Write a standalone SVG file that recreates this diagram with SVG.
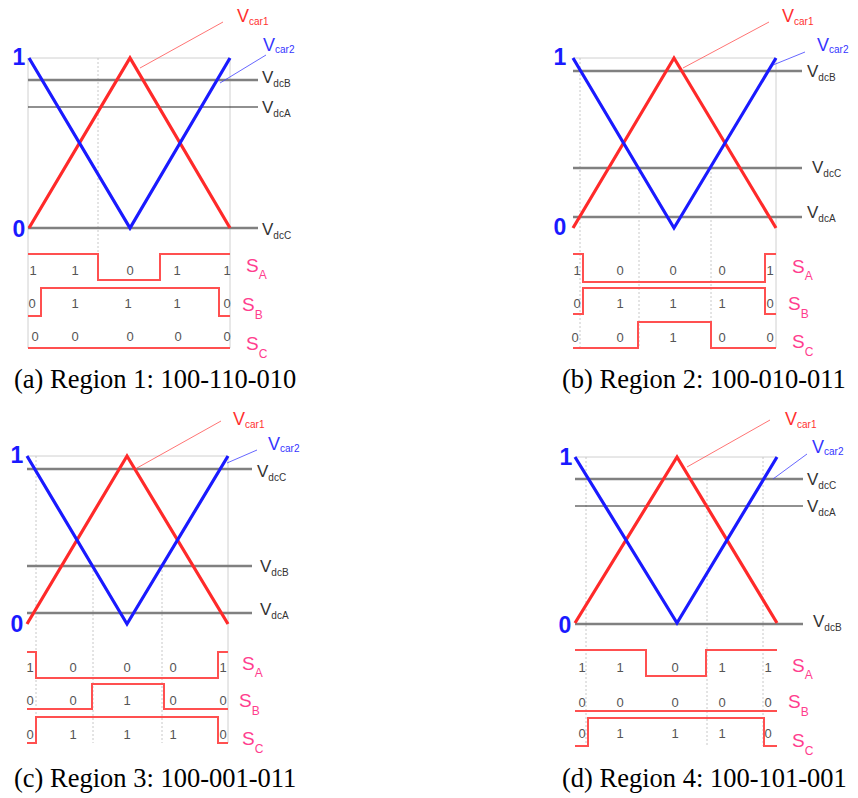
<svg xmlns="http://www.w3.org/2000/svg" width="858" height="798" viewBox="0 0 858 798">
<style>
.frame{stroke:#d0d0d0;stroke-width:1;fill:none}
.dot{stroke:#c8c8c8;stroke-width:1;stroke-dasharray:2 2;fill:none}
.dcg{stroke:#808080;stroke-width:2.5;fill:none}
.dck{stroke:#222;stroke-width:1.2;fill:none}
.red{stroke:#ff2a2a;stroke-width:3.2;fill:none;stroke-linejoin:miter}
.blue{stroke:#1a1aff;stroke-width:3.2;fill:none}
.sw{stroke:#ff5050;stroke-width:2;fill:none}
.ldr{stroke-width:0.8;fill:none}
.ax{font-family:"Liberation Sans",Arial,sans-serif;font-weight:bold;font-size:23px;fill:#1a1aff;text-anchor:middle}
.vl{font-family:"Liberation Sans",Arial,sans-serif;font-size:17px;fill:#333}
.vr{font-family:"Liberation Sans",Arial,sans-serif;font-size:18px;fill:#ff3030}
.vb{font-family:"Liberation Sans",Arial,sans-serif;font-size:18px;fill:#3535ff}
.sub{font-size:10px}
.sl{font-family:"Liberation Sans",Arial,sans-serif;font-size:19px;fill:#ff3d8e}
.sls{font-size:12px}
.num{font-family:"Liberation Sans",Arial,sans-serif;font-size:13px;fill:#555;text-anchor:middle}
.cap{font-family:"Liberation Serif","Times New Roman",serif;font-size:26.5px;fill:#000}
</style>

<!-- Panel (a) -->
<g id="panel-a">
  <path class="frame" d="M29,58 H230 M28,58 V348 M230,58 V348"/>
  <path class="dot" d="M98,58 V254"/>
  <path class="dcg" d="M28,80 H258"/>
  <path class="dck" d="M28,107 H258"/>
  <path class="dcg" d="M28,228 H258"/>
  <polyline class="red" points="29,228 130,58 230,228"/>
  <polyline class="blue" points="29,58 130,228 230,58"/>
  <path class="ldr" stroke="#ff5050" d="M223,22 L140,68"/>
  <path class="ldr" stroke="#4040ff" d="M266,55 L220,83"/>
  <text class="ax" x="19" y="65">1</text>
  <text class="ax" x="19" y="237">0</text>
  <text class="vr" x="237" y="22">V<tspan class="sub" dy="3">car1</tspan></text>
  <text class="vb" x="263" y="51">V<tspan class="sub" dy="2">car2</tspan></text>
  <text class="vl" x="262" y="83">V<tspan class="sub" dy="4">dcB</tspan></text>
  <text class="vl" x="262" y="113">V<tspan class="sub" dy="4">dcA</tspan></text>
  <text class="vl" x="262" y="235">V<tspan class="sub" dy="4">dcC</tspan></text>
  <polyline class="sw" points="28,254 98,254 98,280 160,280 160,254 230,254"/>
  <polyline class="sw" points="28,316 41,316 41,288 219,288 219,316 230,316"/>
  <polyline class="sw" points="28,348 230,348"/>
  <g class="num">
    <text x="33" y="275">1</text><text x="75" y="275">1</text><text x="130" y="275">0</text><text x="177" y="275">1</text><text x="227" y="275">1</text>
    <text x="32" y="308">0</text><text x="75" y="308">1</text><text x="128" y="308">1</text><text x="177" y="308">1</text><text x="227" y="308">0</text>
    <text x="35" y="341">0</text><text x="75" y="341">0</text><text x="130" y="341">0</text><text x="178" y="341">0</text><text x="227" y="341">0</text>
  </g>
  <text class="sl" x="246" y="272">S<tspan class="sls" dy="7">A</tspan></text>
  <text class="sl" x="242" y="311">S<tspan class="sls" dy="8">B</tspan></text>
  <text class="sl" x="246" y="350">S<tspan class="sls" dy="8">C</tspan></text>
  <text class="cap" x="14" y="388">(a) Region 1: 100-110-010</text>
</g>

<!-- Panel (b) -->
<g id="panel-b">
  <path class="frame" d="M573,58 H776 M776,58 V348"/>
  <path class="dot" d="M580,58 V348 M639,168 V348 M711,168 V348"/>
  <path class="dcg" d="M573,71 H802"/>
  <path class="dcg" d="M573,168 H802"/>
  <path class="dcg" d="M573,217 H802"/>
  <polyline class="red" points="573,228 674,58 776,228"/>
  <polyline class="blue" points="573,58 674,228 776,58"/>
  <path class="ldr" stroke="#ff5050" d="M769,22 L683,68"/>
  <path class="ldr" stroke="#4040ff" d="M805,52 L773,65"/>
  <text class="ax" x="560" y="65">1</text>
  <text class="ax" x="560" y="235">0</text>
  <text class="vr" x="782" y="22">V<tspan class="sub" dy="3">car1</tspan></text>
  <text class="vb" x="817" y="51">V<tspan class="sub" dy="2">car2</tspan></text>
  <text class="vl" x="807" y="77">V<tspan class="sub" dy="4">dcB</tspan></text>
  <text class="vl" x="812" y="173">V<tspan class="sub" dy="4">dcC</tspan></text>
  <text class="vl" x="807" y="218">V<tspan class="sub" dy="4">dcA</tspan></text>
  <polyline class="sw" points="573,254 583,254 583,282 765,282 765,254 776,254"/>
  <polyline class="sw" points="573,314 583,314 583,288 765,288 765,314 776,314"/>
  <polyline class="sw" points="573,348 638,348 638,322 711,322 711,348 776,348"/>
  <g class="num">
    <text x="577" y="275">1</text><text x="620" y="275">0</text><text x="673" y="275">0</text><text x="722" y="275">0</text><text x="770" y="275">1</text>
    <text x="577" y="308">0</text><text x="620" y="308">1</text><text x="673" y="308">1</text><text x="722" y="308">1</text><text x="770" y="308">0</text>
    <text x="575" y="342">0</text><text x="620" y="342">0</text><text x="673" y="342">1</text><text x="722" y="342">0</text><text x="770" y="342">0</text>
  </g>
  <text class="sl" x="792" y="273">S<tspan class="sls" dy="7">A</tspan></text>
  <text class="sl" x="788" y="310">S<tspan class="sls" dy="8">B</tspan></text>
  <text class="sl" x="792" y="348">S<tspan class="sls" dy="8">C</tspan></text>
  <text class="cap" x="562" y="388">(b) Region 2: 100-010-011</text>
</g>

<!-- Panel (c) -->
<g id="panel-c">
  <path class="frame" d="M27,456 H228 M228,456 V743"/>
  <path class="dot" d="M36,456 V743 M93,566 V743 M162,566 V743"/>
  <path class="dcg" d="M27,469 H252"/>
  <path class="dcg" d="M27,566 H252"/>
  <path class="dcg" d="M27,613 H252"/>
  <polyline class="red" points="27,624 127,456 228,624"/>
  <polyline class="blue" points="27,456 127,624 228,456"/>
  <path class="ldr" stroke="#ff5050" d="M221,421 L137,468"/>
  <path class="ldr" stroke="#4040ff" d="M257,450 L227,463"/>
  <text class="ax" x="17" y="463">1</text>
  <text class="ax" x="17" y="632">0</text>
  <text class="vr" x="233" y="425">V<tspan class="sub" dy="3">car1</tspan></text>
  <text class="vb" x="268" y="450">V<tspan class="sub" dy="2">car2</tspan></text>
  <text class="vl" x="257" y="477">V<tspan class="sub" dy="4">dcC</tspan></text>
  <text class="vl" x="260" y="572">V<tspan class="sub" dy="4">dcB</tspan></text>
  <text class="vl" x="260" y="615">V<tspan class="sub" dy="4">dcA</tspan></text>
  <polyline class="sw" points="27,652 36,652 36,678 218,678 218,652 228,652"/>
  <polyline class="sw" points="27,709 92,709 92,684 164,684 164,709 228,709"/>
  <polyline class="sw" points="27,743 36,743 36,717 218,717 218,743 228,743"/>
  <g class="num">
    <text x="30" y="672">1</text><text x="73" y="672">0</text><text x="127" y="672">0</text><text x="173" y="672">0</text><text x="223" y="672">1</text>
    <text x="30" y="705">0</text><text x="73" y="705">0</text><text x="127" y="705">1</text><text x="173" y="705">0</text><text x="223" y="705">0</text>
    <text x="30" y="739">0</text><text x="73" y="739">1</text><text x="127" y="739">1</text><text x="173" y="739">1</text><text x="223" y="739">0</text>
  </g>
  <text class="sl" x="242" y="670">S<tspan class="sls" dy="7">A</tspan></text>
  <text class="sl" x="239" y="707">S<tspan class="sls" dy="8">B</tspan></text>
  <text class="sl" x="242" y="745">S<tspan class="sls" dy="8">C</tspan></text>
  <text class="cap" x="14" y="787">(c) Region 3: 100-001-011</text>
</g>

<!-- Panel (d) -->
<g id="panel-d">
  <path class="frame" d="M575,457 H777"/>
  <path class="dot" d="M586,457 V746 M707,479 V746 M763,457 V746"/>
  <path class="dcg" d="M575,479 H803"/>
  <path class="dck" d="M575,506 H803"/>
  <path class="dcg" d="M575,624 H803"/>
  <polyline class="red" points="575,623 677,457 777,623"/>
  <polyline class="blue" points="575,457 677,623 777,457"/>
  <path class="ldr" stroke="#ff5050" d="M770,420 L687,467"/>
  <path class="ldr" stroke="#4040ff" d="M807,454 L773,479"/>
  <text class="ax" x="566" y="465">1</text>
  <text class="ax" x="565" y="633">0</text>
  <text class="vr" x="785" y="425">V<tspan class="sub" dy="3">car1</tspan></text>
  <text class="vb" x="812" y="453">V<tspan class="sub" dy="2">car2</tspan></text>
  <text class="vl" x="807" y="485">V<tspan class="sub" dy="4">dcC</tspan></text>
  <text class="vl" x="807" y="512">V<tspan class="sub" dy="4">dcA</tspan></text>
  <text class="vl" x="813" y="627">V<tspan class="sub" dy="4">dcB</tspan></text>
  <polyline class="sw" points="575,650 646,650 646,676 706,676 706,650 777,650"/>
  <polyline class="sw" points="575,711 777,711"/>
  <polyline class="sw" points="575,746 588,746 588,718 764,718 764,746 777,746"/>
  <g class="num">
    <text x="582" y="672">1</text><text x="620" y="672">1</text><text x="675" y="672">0</text><text x="722" y="672">1</text><text x="768" y="672">1</text>
    <text x="582" y="707">0</text><text x="620" y="707">0</text><text x="675" y="707">0</text><text x="722" y="707">0</text><text x="768" y="707">0</text>
    <text x="582" y="738">0</text><text x="620" y="738">1</text><text x="675" y="738">1</text><text x="722" y="738">1</text><text x="768" y="738">0</text>
  </g>
  <text class="sl" x="792" y="672">S<tspan class="sls" dy="7">A</tspan></text>
  <text class="sl" x="788" y="708">S<tspan class="sls" dy="8">B</tspan></text>
  <text class="sl" x="792" y="747">S<tspan class="sls" dy="8">C</tspan></text>
  <text class="cap" x="562" y="787">(d) Region 4: 100-101-001</text>
</g>
</svg>
